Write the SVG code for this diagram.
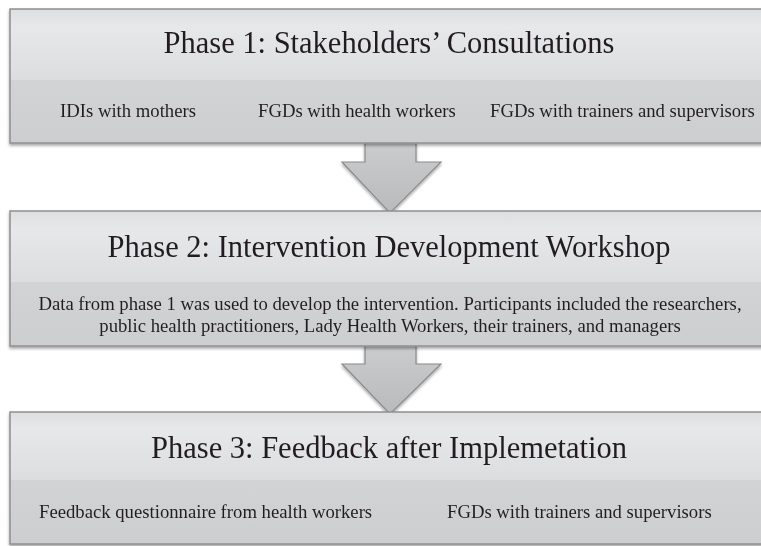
<svg xmlns="http://www.w3.org/2000/svg" width="761" height="546" viewBox="0 0 761 546">
  <defs>
    <linearGradient id="headFill" x1="0" y1="0" x2="0" y2="1">
      <stop offset="0" stop-color="#dedfe0"/>
      <stop offset="0.25" stop-color="#e7e8e9"/>
      <stop offset="1" stop-color="#dcdddf"/>
    </linearGradient>
    <linearGradient id="bandFill" x1="0" y1="0" x2="0" y2="1">
      <stop offset="0" stop-color="#d2d3d5"/>
      <stop offset="1" stop-color="#cdced0"/>
    </linearGradient>
    <linearGradient id="arrowFill" x1="0" y1="0" x2="0" y2="1">
      <stop offset="0" stop-color="#cbcccd"/>
      <stop offset="1" stop-color="#b9babc"/>
    </linearGradient>
    <filter id="shadow" x="-5%" y="-10%" width="110%" height="125%">
      <feGaussianBlur in="SourceAlpha" stdDeviation="1.5"/>
      <feOffset dx="0" dy="2" result="b"/>
      <feComponentTransfer><feFuncA type="linear" slope="0.35"/></feComponentTransfer>
      <feMerge><feMergeNode/><feMergeNode in="SourceGraphic"/></feMerge>
    </filter>
  </defs>
  <style>
    .title { font-family: "Liberation Serif", "Times New Roman", serif; font-size: 30.5px; fill: #231f20; text-anchor: middle; }
    .body { font-family: "Liberation Serif", "Times New Roman", serif; font-size: 18.7px; fill: #231f20; }
    .mid { text-anchor: middle; }
    .frame { fill: none; stroke: #8e8f91; stroke-width: 1.5; }
    .arrow { fill: url(#arrowFill); stroke: #8a8b8d; stroke-width: 1.2; stroke-linejoin: miter; }
  </style>
  <rect width="761" height="546" fill="#ffffff"/>

  <!-- connectors: block arrows between phases -->
  <g id="connectors" filter="url(#shadow)">
    <path class="arrow" d="M365,142 L365,162 L342,162 L390,213 L441,162 L416,162 L416,142 Z"/>
    <path class="arrow" d="M365,345 L365,364 L342,364 L390,414 L441,364 L416,364 L416,345 Z"/>
  </g>

  <!-- Phase 1 -->
  <g id="phase1" filter="url(#shadow)">
    <rect x="10" y="9" width="770" height="71" fill="url(#headFill)"/>
    <rect x="10" y="80" width="770" height="63" fill="url(#bandFill)"/>
    <rect class="frame" x="10" y="9" width="770" height="134"/>
    <text class="title" x="389" y="53">Phase 1: Stakeholders’ Consultations</text>
    <text class="body" x="60" y="117">IDIs with mothers</text>
    <text class="body" x="258" y="117">FGDs with health workers</text>
    <text class="body" x="490" y="117">FGDs with trainers and supervisors</text>
  </g>

  <!-- Phase 2 -->
  <g id="phase2" filter="url(#shadow)">
    <rect x="10" y="211" width="770" height="71" fill="url(#headFill)"/>
    <rect x="10" y="282" width="770" height="64" fill="url(#bandFill)"/>
    <rect class="frame" x="10" y="211" width="770" height="135"/>
    <text class="title" x="389" y="257">Phase 2: Intervention Development Workshop</text>
    <text class="body mid" x="390" y="310">Data from phase 1 was used to develop the intervention. Participants included the researchers,</text>
    <text class="body mid" x="390" y="332">public health practitioners, Lady Health Workers, their trainers, and managers</text>
  </g>

  <!-- Phase 3 -->
  <g id="phase3" filter="url(#shadow)">
    <rect x="10" y="412" width="770" height="68" fill="url(#headFill)"/>
    <rect x="10" y="480" width="770" height="64" fill="url(#bandFill)"/>
    <rect class="frame" x="10" y="412" width="770" height="132"/>
    <text class="title" x="389" y="458">Phase 3: Feedback after Implemetation</text>
    <text class="body" x="39" y="518">Feedback questionnaire from health workers</text>
    <text class="body" x="447" y="518">FGDs with trainers and supervisors</text>
  </g>
</svg>
